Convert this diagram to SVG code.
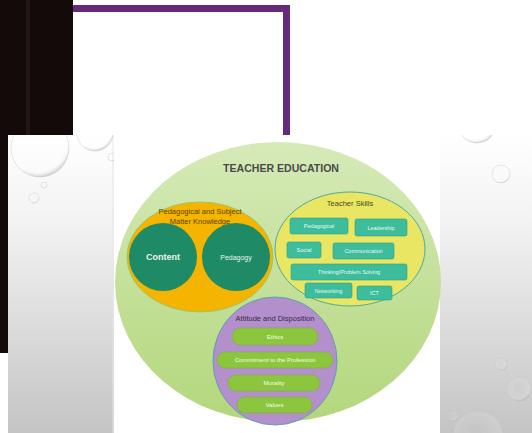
<svg xmlns="http://www.w3.org/2000/svg" width="532" height="433" viewBox="0 0 532 433">
<defs>
<linearGradient id="panel" x1="0" y1="0" x2="0" y2="1">
<stop offset="0" stop-color="#ffffff"/>
<stop offset="0.3" stop-color="#f2f2f2"/>
<stop offset="1" stop-color="#c4c4c4"/>
</linearGradient>
<linearGradient id="green" x1="0" y1="0" x2="0" y2="1">
<stop offset="0" stop-color="#d6eab8"/>
<stop offset="1" stop-color="#b3d77c"/>
</linearGradient>
<radialGradient id="drop" cx="0.45" cy="0.4" r="0.6">
<stop offset="0" stop-color="#ffffff" stop-opacity="0"/>
<stop offset="0.85" stop-color="#ffffff" stop-opacity="0.15"/>
<stop offset="1" stop-color="#a0a0a0" stop-opacity="0.45"/>
</radialGradient>
<clipPath id="panels">
<rect x="8" y="135" width="106" height="298"/>
<rect x="440" y="135" width="92" height="298"/>
</clipPath>
<style>
.drop{fill:url(#drop);stroke:#bdbdbd;stroke-width:0.7;stroke-opacity:0.5}
.skill{fill:#3dbd9c;stroke:#2f9f84;stroke-width:0.6}
.pill{fill:#8cc63f;stroke:#7ab236;stroke-width:0.6}
.stxt{font-family:"Liberation Sans",Arial,sans-serif;font-size:5.5px;fill:#e8f7f1;text-anchor:middle}
.ptxt{font-family:"Liberation Sans",Arial,sans-serif;font-size:6px;fill:#f4fbe9;text-anchor:middle}
.hdr{font-family:"Liberation Sans",Arial,sans-serif;font-size:7.5px;text-anchor:middle}
</style>
</defs>
<rect width="532" height="433" fill="#ffffff"/>
<!-- side panels -->
<rect x="8" y="135" width="106" height="298" fill="url(#panel)"/>
<line x1="113" y1="135" x2="113" y2="433" stroke="#e6e6e6" stroke-width="1"/>
<rect x="440" y="135" width="92" height="298" fill="url(#panel)"/>
<!-- drops -->
<g clip-path="url(#panels)">
<circle class="drop" cx="40" cy="148" r="29"/>
<circle class="drop" cx="95" cy="133" r="18"/>
<circle class="drop" cx="112" cy="157" r="4"/>
<circle class="drop" cx="44" cy="185" r="3"/>
<circle class="drop" cx="34" cy="198" r="5"/>
<circle class="drop" cx="477" cy="124" r="19"/>
<circle class="drop" cx="501" cy="174" r="9"/>
<circle class="drop" cx="501" cy="364" r="6"/>
<circle class="drop" cx="519" cy="389" r="12"/>
<circle class="drop" cx="478" cy="436" r="25"/>
<circle class="drop" cx="453" cy="416" r="5"/>
</g>
<!-- dark block -->
<path d="M0 0H73V135H8V353H0Z" fill="#150a0a"/>
<line x1="28" y1="0" x2="28" y2="135" stroke="#241414" stroke-width="4"/>
<!-- purple frame line -->
<path d="M73 8.5H286.5V135" fill="none" stroke="#652a7c" stroke-width="7"/>
<!-- diagram -->
<g id="teacher-education">
<ellipse cx="278" cy="282" rx="163" ry="140" fill="url(#green)"/>
<text x="281" y="172" font-family="'Liberation Sans',Arial,sans-serif" font-size="11" font-weight="bold" fill="#4a4a4a" text-anchor="middle" textLength="116" lengthAdjust="spacingAndGlyphs">TEACHER EDUCATION</text>
</g>
<g id="pedagogical-knowledge">
<ellipse cx="200" cy="257" rx="73" ry="55" fill="#f4b400" stroke="#9cc46a" stroke-width="1"/>
<text class="hdr" x="200" y="214" fill="#5a4300">Pedagogical and Subject</text>
<text class="hdr" x="200" y="224" fill="#5a4300">Matter Knowledge</text>
</g>
<g id="content">
<circle cx="163" cy="257" r="34" fill="#1f8a66"/>
<text x="163" y="260" font-family="'Liberation Sans',Arial,sans-serif" font-size="9" font-weight="bold" fill="#e9f5ef" text-anchor="middle">Content</text>
</g>
<g id="pedagogy">
<circle cx="236" cy="257" r="34" fill="#1f8a66"/>
<text x="236" y="260" font-family="'Liberation Sans',Arial,sans-serif" font-size="7" fill="#e9f5ef" text-anchor="middle">Pedagogy</text>
</g>
<g id="teacher-skills">
<ellipse cx="350" cy="249" rx="75" ry="57" fill="#e9e663" stroke="#4fa9a0" stroke-width="1"/>
<text class="hdr" x="350" y="206" fill="#4a4a1a">Teacher Skills</text>
</g>
<g id="skill-pedagogical"><rect class="skill" x="290" y="218" width="58" height="16" rx="2"/><text class="stxt" x="319" y="228">Pedagogical</text></g>
<g id="skill-leadership"><rect class="skill" x="355" y="219" width="52" height="17" rx="2"/><text class="stxt" x="381" y="229.5">Leadership</text></g>
<g id="skill-social"><rect class="skill" x="287" y="242" width="34" height="16" rx="2"/><text class="stxt" x="304" y="252">Social</text></g>
<g id="skill-communication"><rect class="skill" x="333" y="243" width="61" height="16" rx="2"/><text class="stxt" x="363.5" y="253">Communication</text></g>
<g id="skill-thinking"><rect class="skill" x="291" y="264" width="116" height="16" rx="2"/><text class="stxt" x="349" y="274">Thinking/Problem Solving</text></g>
<g id="skill-networking"><rect class="skill" x="305" y="283" width="47" height="15" rx="2"/><text class="stxt" x="328.5" y="292.5">Networking</text></g>
<g id="skill-ict"><rect class="skill" x="357" y="286" width="35" height="14" rx="2"/><text class="stxt" x="374.5" y="295">ICT</text></g>
<g id="attitude-disposition">
<ellipse cx="275" cy="361" rx="62" ry="64" fill="#b38fcb" stroke="#5e9fb5" stroke-width="1"/>
<text class="hdr" x="275" y="321" fill="#3a2a48">Attitude and Disposition</text>
</g>
<g id="ethics"><rect class="pill" x="232" y="328" width="86" height="17" rx="8.5"/><text class="ptxt" x="275" y="338.5">Ethics</text></g>
<g id="commitment"><rect class="pill" x="217" y="352" width="116" height="16" rx="8"/><text class="ptxt" x="275" y="362">Commitment to the Profession</text></g>
<g id="morality"><rect class="pill" x="228" y="375" width="92" height="16" rx="8"/><text class="ptxt" x="274" y="385">Morality</text></g>
<g id="values"><rect class="pill" x="237" y="397" width="75" height="16" rx="8"/><text class="ptxt" x="274.5" y="407">Values</text></g>
<g id="connectors"></g>
</svg>
